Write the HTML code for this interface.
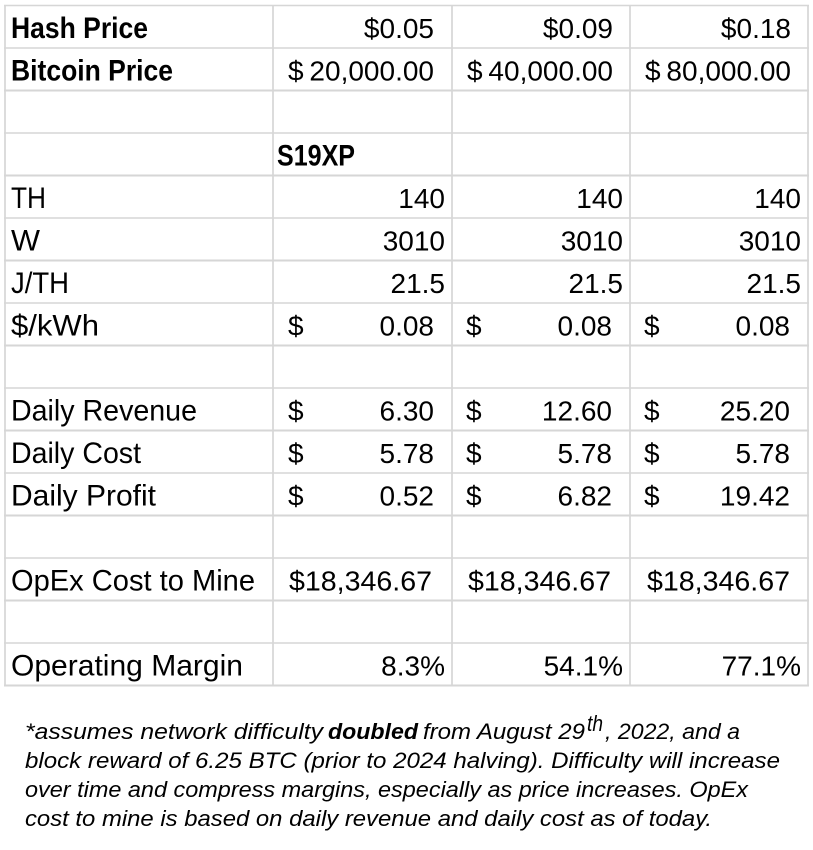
<!DOCTYPE html>
<html>
<head>
<meta charset="utf-8">
<style>
  html,body{margin:0;padding:0;background:#fff;}
  svg{display:block;}
  .t{font-family:"Liberation Sans",Arial,sans-serif;font-size:28px;fill:#000;}
  .l{font-size:30px;}
  .b{font-weight:bold;}
  .f{font-family:"Liberation Sans",Arial,sans-serif;font-size:22px;font-style:italic;fill:#000;}
</style>
</head>
<body>
<svg width="813" height="850" viewBox="0 0 813 850" xmlns="http://www.w3.org/2000/svg">
  <rect x="0" y="0" width="813" height="850" fill="#fff"/>
  <g stroke="#d6d6d6">
    <line x1="4" y1="5.5" x2="809" y2="5.5" stroke-width="1.5"/>
    <line x1="4" y1="48" x2="809" y2="48" stroke-width="1.5"/>
    <line x1="4" y1="90.5" x2="809" y2="90.5" stroke-width="2"/>
    <line x1="4" y1="133" x2="809" y2="133" stroke-width="1.5"/>
    <line x1="4" y1="175.5" x2="809" y2="175.5" stroke-width="2"/>
    <line x1="4" y1="218" x2="809" y2="218" stroke-width="1.5"/>
    <line x1="4" y1="260.5" x2="809" y2="260.5" stroke-width="2"/>
    <line x1="4" y1="303" x2="809" y2="303" stroke-width="1.5"/>
    <line x1="4" y1="345.5" x2="809" y2="345.5" stroke-width="2"/>
    <line x1="4" y1="388" x2="809" y2="388" stroke-width="1.5"/>
    <line x1="4" y1="430.5" x2="809" y2="430.5" stroke-width="2"/>
    <line x1="4" y1="473" x2="809" y2="473" stroke-width="1.5"/>
    <line x1="4" y1="515.5" x2="809" y2="515.5" stroke-width="2"/>
    <line x1="4" y1="558" x2="809" y2="558" stroke-width="1.5"/>
    <line x1="4" y1="600.5" x2="809" y2="600.5" stroke-width="2"/>
    <line x1="4" y1="643" x2="809" y2="643" stroke-width="1.5"/>
    <line x1="4" y1="685.5" x2="809" y2="685.5" stroke-width="2"/>
  </g>
  <g stroke="#d6d6d6" stroke-width="1.7">
    <line x1="5" y1="5" x2="5" y2="686"/>
    <line x1="273" y1="5" x2="273" y2="686"/>
    <line x1="452" y1="5" x2="452" y2="686"/>
    <line x1="630" y1="5" x2="630" y2="686"/>
    <line x1="808" y1="5" x2="808" y2="686"/>
  </g>

  <text class="t l b" x="11" y="38" textLength="137" lengthAdjust="spacingAndGlyphs">Hash Price</text>
  <text class="t" x="434" y="38" text-anchor="end">$0.05</text>
  <text class="t" x="613" y="38" text-anchor="end">$0.09</text>
  <text class="t" x="791" y="38" text-anchor="end">$0.18</text>

  <text class="t l b" x="11" y="80.5" textLength="162" lengthAdjust="spacingAndGlyphs">Bitcoin Price</text>
  <text class="t" x="288" y="80.5">$</text>
  <text class="t" x="434" y="80.5" text-anchor="end">20,000.00</text>
  <text class="t" x="467" y="80.5">$</text>
  <text class="t" x="613" y="80.5" text-anchor="end">40,000.00</text>
  <text class="t" x="645" y="80.5">$</text>
  <text class="t" x="791" y="80.5" text-anchor="end">80,000.00</text>

  <text class="t l b" x="277" y="165.5" textLength="78" lengthAdjust="spacingAndGlyphs">S19XP</text>

  <text class="t l" x="11" y="208" textLength="35" lengthAdjust="spacingAndGlyphs">TH</text>
  <text class="t" x="445" y="208" text-anchor="end">140</text>
  <text class="t" x="623" y="208" text-anchor="end">140</text>
  <text class="t" x="801" y="208" text-anchor="end">140</text>

  <text class="t l" x="11" y="250.5" textLength="29" lengthAdjust="spacingAndGlyphs">W</text>
  <text class="t" x="445" y="250.5" text-anchor="end">3010</text>
  <text class="t" x="623" y="250.5" text-anchor="end">3010</text>
  <text class="t" x="801" y="250.5" text-anchor="end">3010</text>

  <text class="t l" x="11" y="293" textLength="58" lengthAdjust="spacingAndGlyphs">J/TH</text>
  <text class="t" x="445" y="293" text-anchor="end">21.5</text>
  <text class="t" x="623" y="293" text-anchor="end">21.5</text>
  <text class="t" x="801" y="293" text-anchor="end">21.5</text>

  <text class="t l" x="11" y="335.5" textLength="88" lengthAdjust="spacingAndGlyphs">$/kWh</text>
  <text class="t" x="288" y="335.5">$</text>
  <text class="t" x="434" y="335.5" text-anchor="end">0.08</text>
  <text class="t" x="466" y="335.5">$</text>
  <text class="t" x="612" y="335.5" text-anchor="end">0.08</text>
  <text class="t" x="644" y="335.5">$</text>
  <text class="t" x="790" y="335.5" text-anchor="end">0.08</text>

  <text class="t l" x="11" y="420.5" textLength="186" lengthAdjust="spacingAndGlyphs">Daily Revenue</text>
  <text class="t" x="288" y="420.5">$</text>
  <text class="t" x="434" y="420.5" text-anchor="end">6.30</text>
  <text class="t" x="466" y="420.5">$</text>
  <text class="t" x="612" y="420.5" text-anchor="end">12.60</text>
  <text class="t" x="644" y="420.5">$</text>
  <text class="t" x="790" y="420.5" text-anchor="end">25.20</text>

  <text class="t l" x="11" y="463" textLength="130" lengthAdjust="spacingAndGlyphs">Daily Cost</text>
  <text class="t" x="288" y="463">$</text>
  <text class="t" x="434" y="463" text-anchor="end">5.78</text>
  <text class="t" x="466" y="463">$</text>
  <text class="t" x="612" y="463" text-anchor="end">5.78</text>
  <text class="t" x="644" y="463">$</text>
  <text class="t" x="790" y="463" text-anchor="end">5.78</text>

  <text class="t l" x="11" y="505.5" textLength="145" lengthAdjust="spacingAndGlyphs">Daily Profit</text>
  <text class="t" x="288" y="505.5">$</text>
  <text class="t" x="434" y="505.5" text-anchor="end">0.52</text>
  <text class="t" x="466" y="505.5">$</text>
  <text class="t" x="612" y="505.5" text-anchor="end">6.82</text>
  <text class="t" x="644" y="505.5">$</text>
  <text class="t" x="790" y="505.5" text-anchor="end">19.42</text>

  <text class="t l" x="11" y="590.5" textLength="244" lengthAdjust="spacingAndGlyphs">OpEx Cost to Mine</text>
  <text class="t" x="289" y="590.5" textLength="143" lengthAdjust="spacingAndGlyphs">$18,346.67</text>
  <text class="t" x="468" y="590.5" textLength="143" lengthAdjust="spacingAndGlyphs">$18,346.67</text>
  <text class="t" x="647" y="590.5" textLength="143" lengthAdjust="spacingAndGlyphs">$18,346.67</text>

  <text class="t l" x="11" y="675.5" textLength="232" lengthAdjust="spacingAndGlyphs">Operating Margin</text>
  <text class="t" x="445" y="675.5" text-anchor="end">8.3%</text>
  <text class="t" x="623" y="675.5" text-anchor="end">54.1%</text>
  <text class="t" x="801" y="675.5" text-anchor="end">77.1%</text>

  <text class="f" x="25" y="739" textLength="298" lengthAdjust="spacingAndGlyphs">*assumes network difficulty</text>
  <text class="f" x="328" y="739" font-weight="bold" textLength="90" lengthAdjust="spacingAndGlyphs">doubled</text>
  <text class="f" x="423" y="739" textLength="162" lengthAdjust="spacingAndGlyphs">from August 29</text>
  <text class="f" x="587" y="731" font-size="13" textLength="16" lengthAdjust="spacingAndGlyphs">th</text>
  <text class="f" x="605" y="739" textLength="135" lengthAdjust="spacingAndGlyphs">, 2022, and a</text>
  <text class="f" x="25" y="768" textLength="755" lengthAdjust="spacingAndGlyphs">block reward of 6.25 BTC (prior to 2024 halving). Difficulty will increase</text>
  <text class="f" x="25" y="797" textLength="723" lengthAdjust="spacingAndGlyphs">over time and compress margins, especially as price increases. OpEx</text>
  <text class="f" x="25" y="826" textLength="687" lengthAdjust="spacingAndGlyphs">cost to mine is based on daily revenue and daily cost as of today.</text>
</svg>
</body>
</html>
